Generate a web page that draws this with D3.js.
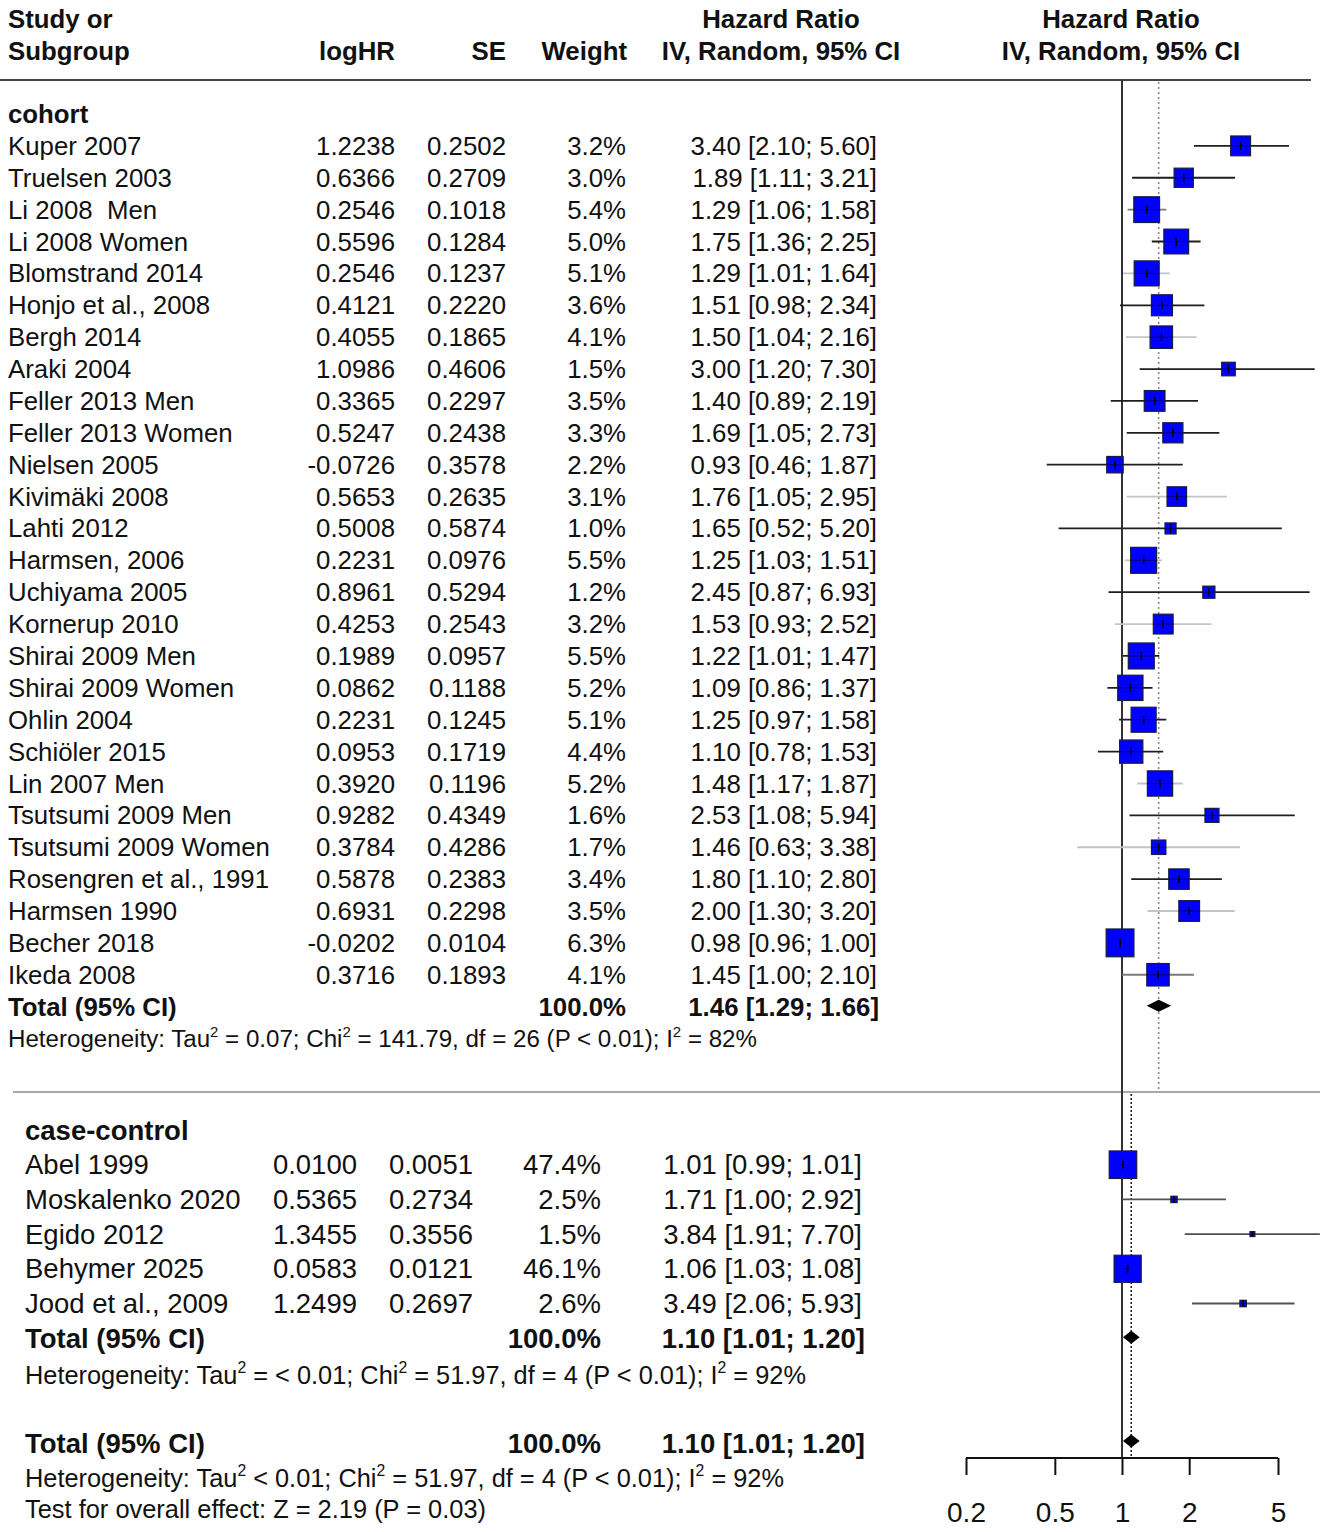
<!DOCTYPE html>
<html><head><meta charset="utf-8">
<script src="https://cdn.jsdelivr.net/npm/d3@7/dist/d3.min.js"></script>
<style>
body{margin:0;background:#fff}
svg text{font-family:"Liberation Sans",Arial,sans-serif;white-space:pre;fill:#111}
</style>
</head><body>
<svg id="chart" width="1325" height="1532"></svg>
<script>
// ---------- DATA ----------
const cohortStudies = ["Kuper 2007","Truelsen 2003","Li 2008  Men","Li 2008 Women","Blomstrand 2014","Honjo et al., 2008","Bergh 2014","Araki 2004","Feller 2013 Men","Feller 2013 Women","Nielsen 2005","Kivimäki 2008","Lahti 2012","Harmsen, 2006","Uchiyama 2005","Kornerup 2010","Shirai 2009 Men","Shirai 2009 Women","Ohlin 2004","Schiöler 2015","Lin 2007 Men","Tsutsumi 2009 Men","Tsutsumi 2009 Women","Rosengren et al., 1991","Harmsen 1990","Becher 2018","Ikeda 2008"];
const cohortLogHR = [1.2238,0.6366,0.2546,0.5596,0.2546,0.4121,0.4055,1.0986,0.3365,0.5247,-0.0726,0.5653,0.5008,0.2231,0.8961,0.4253,0.1989,0.0862,0.2231,0.0953,0.3920,0.9282,0.3784,0.5878,0.6931,-0.0202,0.3716];
const cohortSE = [0.2502,0.2709,0.1018,0.1284,0.1237,0.2220,0.1865,0.4606,0.2297,0.2438,0.3578,0.2635,0.5874,0.0976,0.5294,0.2543,0.0957,0.1188,0.1245,0.1719,0.1196,0.4349,0.4286,0.2383,0.2298,0.0104,0.1893];
const cohortWeight = [3.2,3.0,5.4,5.0,5.1,3.6,4.1,1.5,3.5,3.3,2.2,3.1,1.0,5.5,1.2,3.2,5.5,5.2,5.1,4.4,5.2,1.6,1.7,3.4,3.5,6.3,4.1];
const cohortHR = [3.40,1.89,1.29,1.75,1.29,1.51,1.50,3.00,1.40,1.69,0.93,1.76,1.65,1.25,2.45,1.53,1.22,1.09,1.25,1.10,1.48,2.53,1.46,1.80,2.00,0.98,1.45];
const cohortLower = [2.10,1.11,1.06,1.36,1.01,0.98,1.04,1.20,0.89,1.05,0.46,1.05,0.52,1.03,0.87,0.93,1.01,0.86,0.97,0.78,1.17,1.08,0.63,1.10,1.30,0.96,1.00];
const cohortUpper = [5.60,3.21,1.58,2.25,1.64,2.34,2.16,7.30,2.19,2.73,1.87,2.95,5.20,1.51,6.93,2.52,1.47,1.37,1.58,1.53,1.87,5.94,3.38,2.80,3.20,1.00,2.10];
const cohortPooled = [1.46, 1.29, 1.66];

const ccStudies = ["Abel 1999","Moskalenko 2020","Egido 2012","Behymer 2025","Jood et al., 2009"];
const ccLogHR = [0.0100,0.5365,1.3455,0.0583,1.2499];
const ccSE = [0.0051,0.2734,0.3556,0.0121,0.2697];
const ccWeight = [47.4,2.5,1.5,46.1,2.6];
const ccHR = [1.01,1.71,3.84,1.06,3.49];
const ccLower = [0.99,1.00,1.91,1.03,2.06];
const ccUpper = [1.01,2.92,7.70,1.08,5.93];
const ccPooled = [1.10, 1.01, 1.20];
const overallPooled = [1.10, 1.01, 1.20];

const axisTicks = [0.2, 0.5, 1, 2, 5];

// heterogeneity text pieces: [text, isSuperscript]
const cohortHet = [["Heterogeneity: Tau",0],["2",1],[" = 0.07; Chi",0],["2",1],[" = 141.79, df = 26 (P < 0.01); I",0],["2",1],[" = 82%",0]];
const ccHet = [["Heterogeneity: Tau",0],["2",1],[" = < 0.01; Chi",0],["2",1],[" = 51.97, df = 4 (P < 0.01); I",0],["2",1],[" = 92%",0]];
const overallHet = [["Heterogeneity: Tau",0],["2",1],[" < 0.01; Chi",0],["2",1],[" = 51.97, df = 4 (P < 0.01); I",0],["2",1],[" = 92%",0]];
const overallTest = "Test for overall effect: Z = 2.19 (P = 0.03)";

// ---------- STYLE (CI line shade per study, as in the reference) ----------
const ciShade = {"Li 2008  Men":"mid","Blomstrand 2014":"light","Bergh 2014":"light","Kivimäki 2008":"light","Harmsen, 2006":"light","Kornerup 2010":"light","Lin 2007 Men":"light","Tsutsumi 2009 Women":"light","Harmsen 1990":"light","Ikeda 2008":"mid"};
const shadeColor = {light:"#c4c4c4", mid:"#7a7a7a", dark:"#1e1e1e"};

// ---------- DRAW ----------
const svg = d3.select("#chart");
const x = d3.scaleLog().domain([0.2, 5]).range([966, 1278]);
const yCoh = d3.scaleLinear().domain([0, 1]).range([114, 114 + 31.88]);
const yCC = d3.scaleLinear().domain([0, 1]).range([1130, 1130 + 34.7]);
const f4 = v => v.toFixed(4), f2 = v => v.toFixed(2), f1 = v => v.toFixed(1);
const ciText = (e,l,u) => `${f2(e)} [${f2(l)}; ${f2(u)}]`;

function txt(g, s, xx, yy, opts = {}) {
  return g.append("text").attr("x", xx).attr("y", yy).attr("dy", "0.35em")
    .attr("text-anchor", opts.anchor || "start")
    .style("font-size", (opts.size || 25.8) + "px")
    .style("font-weight", opts.bold ? "bold" : "normal")
    .text(s);
}
function richTxt(g, parts, xx, yy, size, len) {
  const t = g.append("text").attr("x", xx).attr("y", yy + 0.35*size).style("font-size", size + "px");
  const rise = 0.42*size;
  let raised = false;
  parts.forEach(([s, sup]) => {
    const ts = t.append("tspan").text(s);
    if (sup) { ts.attr("dy", -rise).style("font-size", (size*0.62) + "px"); raised = true; }
    else if (raised) { ts.attr("dy", rise); raised = false; }
  });
  if (len) t.attr("textLength", len).attr("lengthAdjust", "spacingAndGlyphs");
  return t;
}

// Header
const hdr = svg.append("g");
txt(hdr, "Study or", 8, 19, {bold:true, size:25.8});
txt(hdr, "Subgroup", 8, 51, {bold:true, size:25.8});
txt(hdr, "logHR", 395, 51, {bold:true, anchor:"end"});
txt(hdr, "SE", 506, 51, {bold:true, anchor:"end"});
txt(hdr, "Weight", 627, 51, {bold:true, anchor:"end"});
txt(hdr, "Hazard Ratio", 781, 19, {bold:true, anchor:"middle"});
txt(hdr, "IV, Random, 95% CI", 781, 51, {bold:true, anchor:"middle"});
txt(hdr, "Hazard Ratio", 1121, 19, {bold:true, anchor:"middle"});
txt(hdr, "IV, Random, 95% CI", 1121, 51, {bold:true, anchor:"middle"});
hdr.append("line").attr("x1",0).attr("x2",1311).attr("y1",80).attr("y2",80).attr("stroke","#444").attr("stroke-width",2);

// Separator
svg.append("line").attr("x1",13).attr("x2",1320).attr("y1",1092).attr("y2",1092).attr("stroke","#a8a8a8").attr("stroke-width",2.2);

// Reference lines
svg.append("line").attr("x1",x(1)).attr("x2",x(1)).attr("y1",80).attr("y2",1458).attr("stroke","#333").attr("stroke-width",2);
svg.append("line").attr("x1",x(cohortPooled[0])).attr("x2",x(cohortPooled[0])).attr("y1",82).attr("y2",1090)
  .attr("stroke","#8a8a8a").attr("stroke-width",1.6).attr("stroke-dasharray","2,3");
svg.append("line").attr("x1",x(ccPooled[0])).attr("x2",x(ccPooled[0])).attr("y1",1094).attr("y2",1458)
  .attr("stroke","#222").attr("stroke-width",1.6).attr("stroke-dasharray","2,2");

function drawStudies(g, yS, names, lh, se, w, hr, lo, up, nameX, cols, size, maxSide, defaultShade) {
  const wMax = d3.max(w);
  names.forEach((n, i) => {
    const yy = yS(i + 1);
    txt(g, n, nameX, yy, {size});
    txt(g, f4(lh[i]), cols[0], yy, {size, anchor:"end"});
    txt(g, f4(se[i]), cols[1], yy, {size, anchor:"end"});
    txt(g, f1(w[i]) + "%", cols[2], yy, {size, anchor:"end"});
    txt(g, ciText(hr[i], lo[i], up[i]), cols[3], yy, {size, anchor:"end"});
    const col = defaultShade || shadeColor[ciShade[n] || "dark"];
    g.append("line").attr("x1", x(lo[i])).attr("x2", x(up[i])).attr("y1", yy).attr("y2", yy)
      .attr("stroke", col).attr("stroke-width", 1.8);
    const s = maxSide * Math.sqrt(w[i] / wMax);
    g.append("rect").attr("x", x(hr[i]) - s/2).attr("y", yy - s/2).attr("width", s).attr("height", s)
      .attr("fill", "#0000ff").attr("stroke", "#1a1a40").attr("stroke-width", 1.2);
    const lx1 = Math.max(x(lo[i]), x(hr[i]) - s/2), lx2 = Math.min(x(up[i]), x(hr[i]) + s/2);
    g.append("line").attr("x1", lx1).attr("x2", lx2).attr("y1", yy).attr("y2", yy)
      .attr("stroke", "#000").attr("stroke-opacity", 0.45).attr("stroke-width", 1.2);
    const th = Math.min(8, s);
    g.append("line").attr("x1", x(hr[i])).attr("x2", x(hr[i])).attr("y1", yy - th/2).attr("y2", yy + th/2)
      .attr("stroke", "#000").attr("stroke-width", 1.6);
  });
}
function diamond(g, p, yy, h) {
  g.append("polygon").attr("points", [[x(p[1]), yy],[x(p[0]), yy - h],[x(p[2]), yy],[x(p[0]), yy + h]].map(d => d.join(",")).join(" "))
    .attr("fill", "#000");
}

// Cohort
const gc = svg.append("g");
txt(gc, "cohort", 8, yCoh(0), {bold:true});
drawStudies(gc, yCoh, cohortStudies, cohortLogHR, cohortSE, cohortWeight, cohortHR, cohortLower, cohortUpper, 8, [395, 506, 626, 877], 25.8, 27.8, null);
const yT1 = yCoh(cohortStudies.length + 1);
txt(gc, "Total (95% CI)", 8, yT1, {bold:true});
txt(gc, "100.0%", 626, yT1, {bold:true, anchor:"end"});
txt(gc, ciText(...cohortPooled), 879, yT1, {bold:true, anchor:"end"});
diamond(gc, cohortPooled, yT1 - 1, 6);
richTxt(gc, cohortHet, 8, 1039, 23.5, 749);

// Case-control
const gk = svg.append("g");
txt(gk, "case-control", 25, yCC(0), {bold:true, size:27.5});
drawStudies(gk, yCC, ccStudies, ccLogHR, ccSE, ccWeight, ccHR, ccLower, ccUpper, 25, [357, 473, 601, 862], 27.5, 27.5, "#505050");
const yT2 = yCC(ccStudies.length + 1);
txt(gk, "Total (95% CI)", 25, yT2, {bold:true, size:27.5});
txt(gk, "100.0%", 601, yT2, {bold:true, size:27.5, anchor:"end"});
txt(gk, ciText(...ccPooled), 865, yT2, {bold:true, size:27.5, anchor:"end"});
diamond(gk, ccPooled, yT2 - 1, 6.5);
richTxt(gk, ccHet, 25, 1375, 25.5, 781);

// Overall
const go = svg.append("g");
txt(go, "Total (95% CI)", 25, 1443, {bold:true, size:27.5});
txt(go, "100.0%", 601, 1443, {bold:true, size:27.5, anchor:"end"});
txt(go, ciText(...overallPooled), 865, 1443, {bold:true, size:27.5, anchor:"end"});
diamond(go, overallPooled, 1441, 6.5);
richTxt(go, overallHet, 25, 1478, 25.5, 759);
const tt = txt(go, overallTest, 25, 1509, {size:25.5});
tt.attr("textLength", 461).attr("lengthAdjust", "spacingAndGlyphs");

// Axis
const axis = d3.axisBottom(x).tickValues(axisTicks).tickFormat(d3.format("")).tickSize(17).tickPadding(27);
const ga = svg.append("g").attr("transform", "translate(0,1458)").call(axis);
ga.select(".domain").attr("stroke", "#111").attr("stroke-width", 2).attr("d", `M${x(0.2)},0H${x(5)}`);
ga.selectAll(".tick line").attr("stroke", "#111").attr("stroke-width", 2);
ga.selectAll(".tick text").style("font-size", "28px").style("font-family", '"Liberation Sans",Arial,sans-serif').attr("fill", "#111");
</script>
</body></html>
